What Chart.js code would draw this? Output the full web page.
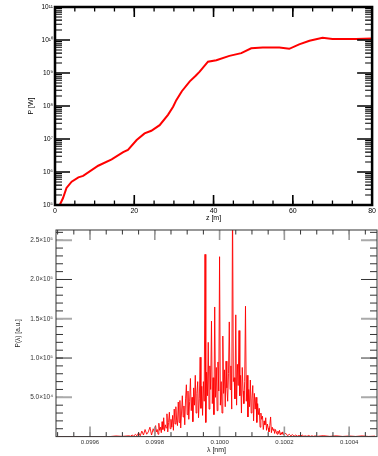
<!DOCTYPE html>
<html>
<head>
<meta charset="utf-8">
<script src="https://cdn.jsdelivr.net/npm/chart.js@4.4.1/dist/chart.umd.min.js"></script>
<style>
  html, body { margin: 0; padding: 0; background: #fff; }
  #wrap { position: relative; width: 378px; height: 456px; overflow: hidden; }
  #powerChart { position: absolute; left: 0; top: 0; }
  #specChart { position: absolute; left: 0; top: 222px; }
</style>
</head>
<body>
<div id="wrap">
  <canvas id="powerChart" width="378" height="222"></canvas>
  <canvas id="specChart" width="378" height="234"></canvas>
</div>
<script>
// Gain curve: power along the undulator
const zPos = [1.2, 2.0, 2.9, 4.2, 5.9, 7.1, 10.9, 14.3, 17.2, 18.4, 20.6, 22.6, 24.3, 26.4,
  28.5, 29.8, 30.6, 32.0, 34.0, 35.5, 36.5, 38.6, 40.7, 44.0, 47.0, 49.5, 52.4, 56.6,
  59.1, 61.6, 64.2, 67.5, 70.0, 75.9, 80.0];
const powerW = [1.0e5, 1.6e5, 3.3e5, 5.1e5, 6.9e5, 7.6e5, 1.55e6, 2.4e6, 4.0e6, 4.7e6, 9.3e6,
  1.48e7, 1.78e7, 2.63e7, 5.4e7, 9.5e7, 1.5e8, 2.8e8, 5.6e8, 8.3e8, 1.1e9, 2.2e9, 2.45e9,
  3.3e9, 4.0e9, 5.6e9, 5.9e9, 5.9e9, 5.4e9, 7.4e9, 9.5e9, 1.17e10, 1.07e10, 1.07e10, 1.12e10];

const topXTicks = [0, 20, 40, 60, 80];
const topYTicks = [1e5, 1e6, 1e7, 1e8, 1e9, 1e10, 1e11];
const topYLabels = ['10⁵', '10⁶', '10⁷', '10⁸', '10⁹', '10¹⁰', '10¹¹'];

// Spectrum at the undulator exit
const specLambda = [
  // left wing
  0.09950, 0.09960, 0.09966, 0.09968, 0.09970,
  0.099720, 0.099725, 0.099730, 0.099735, 0.099740, 0.099745, 0.099750, 0.099755,
  0.099760, 0.099765, 0.099770, 0.099775, 0.099780, 0.099785, 0.099790, 0.099795,
  // core
  0.0998000, 0.0998025, 0.0998050, 0.0998075, 0.0998100, 0.0998125, 0.0998150, 0.0998175, 0.0998200, 0.0998225,
  0.0998250, 0.0998275, 0.0998300, 0.0998325, 0.0998350, 0.0998375, 0.0998400, 0.0998425, 0.0998450, 0.0998475,
  0.0998500, 0.0998525, 0.0998550, 0.0998575, 0.0998600, 0.0998625, 0.0998650, 0.0998675, 0.0998700, 0.0998725,
  0.0998750, 0.0998775, 0.0998800, 0.0998825, 0.0998850, 0.0998875, 0.0998900, 0.0998925, 0.0998950, 0.0998975,
  0.0999000, 0.0999025, 0.0999050, 0.0999075, 0.0999100, 0.0999125, 0.0999150, 0.0999175, 0.0999200, 0.0999225,
  0.0999250, 0.0999275, 0.0999300, 0.0999325, 0.0999350, 0.0999375, 0.0999400, 0.0999425, 0.0999450, 0.0999475,
  0.0999500, 0.0999525, 0.0999550, 0.0999575, 0.0999600, 0.0999625, 0.0999650, 0.0999675, 0.0999700, 0.0999725,
  0.0999750, 0.0999775, 0.0999800, 0.0999825, 0.0999850, 0.0999875, 0.0999900, 0.0999925, 0.0999950, 0.0999975,
  0.1000000, 0.1000025, 0.1000050, 0.1000075, 0.1000100, 0.1000125, 0.1000150, 0.1000175, 0.1000200, 0.1000225,
  0.1000250, 0.1000275, 0.1000300, 0.1000325, 0.1000350, 0.1000375, 0.1000400, 0.1000425, 0.1000450, 0.1000475,
  0.1000500, 0.1000525, 0.1000550, 0.1000575, 0.1000600, 0.1000625, 0.1000650, 0.1000675, 0.1000700, 0.1000725,
  0.1000750, 0.1000775, 0.1000800, 0.1000825, 0.1000850, 0.1000875, 0.1000900, 0.1000925, 0.1000950, 0.1000975,
  0.1001000, 0.1001025, 0.1001050, 0.1001075, 0.1001100, 0.1001125, 0.1001150, 0.1001175, 0.1001200, 0.1001225,
  0.1001250, 0.1001275, 0.1001300, 0.1001325, 0.1001350, 0.1001375, 0.1001400, 0.1001425, 0.1001450, 0.1001475,
  0.1001500, 0.1001525, 0.1001550, 0.1001575, 0.1001600, 0.1001625, 0.1001650, 0.1001675, 0.1001700, 0.1001725,
  0.1001750, 0.1001775, 0.1001800, 0.1001825, 0.1001850, 0.1001875, 0.1001900, 0.1001925, 0.1001950, 0.1001975,
  0.1002000,
  // right wing
  0.100205, 0.100210, 0.100215, 0.100220, 0.100225, 0.100230, 0.100235, 0.100240, 0.100245, 0.100250,
  0.100255, 0.100260, 0.100265, 0.100270, 0.100275, 0.100280, 0.100285, 0.100290, 0.100295, 0.100300,
  0.10032, 0.10034, 0.10036, 0.10038, 0.10040, 0.10042, 0.10044, 0.10046, 0.10048
];
const specPower = [
  // left wing
  0, 0, 0, 800, 300,
  1e3, 0.5e3, 2e3, 0.5e3, 3e3, 1e3, 5e3, 1e3,
  7e3, 2e3, 9e3, 3e3, 6e3, 12e3, 2e3, 10e3,
  // core
  4e3, 14e3, 6e3, 9e3, 3e3, 17e3, 8e3, 12e3, 5e3, 19e3,
  9e3, 24e3, 7e3, 15e3, 11e3, 29e3, 6e3, 18e3, 31e3, 10e3,
  22e3, 12e3, 27e3, 8e3, 35e3, 16e3, 38e3, 20e3, 14e3, 44e3,
  18e3, 46e3, 11e3, 30e3, 52e3, 25e3, 39e3, 15e3, 48e3, 66e3,
  28e3, 58e3, 22e3, 45e3, 74e3, 33e3, 50e3, 19e3, 62e3, 40e3,
  78e3, 30e3, 55e3, 70e3, 24e3, 48e3, 101e3, 36e3, 64e3, 27e3,
  70e3, 45e3, 232e3, 18e3, 82e3, 52e3, 120e3, 35e3, 90e3, 60e3,
  147e3, 42e3, 75e3, 28e3, 165e3, 50e3, 88e3, 33e3, 95e3, 58e3,
  229e3, 40e3, 70e3, 30e3, 128e3, 55e3, 85e3, 38e3, 96e3, 62e3,
  45e3, 80e3, 146e3, 60e3, 90e3, 35e3, 300e3, 70e3, 75e3, 48e3,
  155e3, 40e3, 92e3, 65e3, 135e3, 52e3, 78e3, 30e3, 88e3, 58e3,
  42e3, 70e3, 166e3, 45e3, 78e3, 25e3, 60e3, 38e3, 72e3, 30e3,
  48e3, 65e3, 20e3, 55e3, 35e3, 50e3, 18e3, 42e3, 28e3, 36e3,
  12e3, 30e3, 22e3, 26e3, 9e3, 20e3, 15e3, 24e3, 8e3, 16e3,
  11e3, 6e3, 14e3, 25e3, 5e3, 12e3, 8e3, 10e3, 4e3, 9e3,
  6e3, 3e3, 7e3, 4e3, 8e3, 2e3, 5e3, 3e3, 6e3, 2e3,
  4e3,
  // right wing
  4e3, 1e3, 3e3, 1e3, 2.5e3, 0.5e3, 2e3, 0.5e3, 1.5e3, 0.5e3,
  2e3, 0.5e3, 1e3, 0.3e3, 1.5e3, 0.3e3, 1e3, 0.3e3, 1e3, 0.3e3,
  1.2e3, 0.3e3, 1e3, 0.2e3, 0.8e3, 0.2e3, 0.9e3, 0.2e3, 0.6e3
];

const specXTicks = [0.0996, 0.0998, 0.1000, 0.1002, 0.1004];
const specYTicks = [5e4, 1e5, 1.5e5, 2e5, 2.5e5];
const specYLabels = ['5.0×10⁴', '1.0×10⁵', '1.5×10⁵', '2.0×10⁵', '2.5×10⁵'];

const FONT = 'Liberation Sans, Arial, sans-serif';

function steps(from, to, step) {
    const out = [];
    const n = Math.round((to - from) / step);
    for (let i = 0; i <= n; i++) out.push(from + i * step);
    return out;
}

// Inward tick marks on all four sides plus the frame
const frameTicks = {
    id: 'frameTicks',
    afterDraw(chart, args, opts) {
        const { ctx, chartArea: a, scales } = chart;
        ctx.save();
        ctx.beginPath();
        ctx.rect(a.left, a.top, a.right - a.left, a.bottom - a.top);
        ctx.clip();
        (opts.x || []).forEach(t => {
            ctx.strokeStyle = t.color;
            ctx.lineWidth = t.width;
            t.values.forEach(v => {
                const px = scales.x.getPixelForValue(v);
                if (px < a.left - 0.5 || px > a.right + 0.5) return;
                ctx.beginPath();
                ctx.moveTo(px, a.bottom);
                ctx.lineTo(px, a.bottom - t.len);
                ctx.moveTo(px, a.top);
                ctx.lineTo(px, a.top + t.len);
                ctx.stroke();
            });
        });
        (opts.y || []).forEach(t => {
            ctx.strokeStyle = t.color;
            ctx.lineWidth = t.width;
            t.values.forEach(v => {
                const py = scales.y.getPixelForValue(v);
                if (py < a.top - 0.5 || py > a.bottom + 0.5) return;
                ctx.beginPath();
                ctx.moveTo(a.left, py);
                ctx.lineTo(a.left + t.len, py);
                ctx.moveTo(a.right, py);
                ctx.lineTo(a.right - t.len, py);
                ctx.stroke();
            });
        });
        ctx.restore();
        ctx.save();
        ctx.strokeStyle = opts.frameColor;
        ctx.lineWidth = opts.frameWidth;
        ctx.strokeRect(a.left, a.top, a.right - a.left, a.bottom - a.top);
        ctx.restore();
    }
};

// 1. Power vs z (log scale)
const topYMinor = topYTicks.slice(0, -1).flatMap(d => [2, 3, 4, 5, 6, 7, 8, 9].map(m => m * d));

new Chart(document.getElementById('powerChart'), {
    type: 'line',
    data: {
        datasets: [{
            data: zPos.map((z, i) => ({ x: z, y: powerW[i] })),
            borderColor: '#ff0000',
            borderWidth: 2,
            pointRadius: 0,
            tension: 0
        }]
    },
    options: {
        responsive: false,
        animation: false,
        layout: { padding: { top: 7, right: 5, left: 0, bottom: 0 } },
        plugins: {
            legend: { display: false },
            tooltip: { enabled: false },
            frameTicks: {
                frameColor: '#000',
                frameWidth: 2.5,
                x: [
                    { values: steps(0, 80, 5), len: 4.5, color: '#000', width: 1.3 },
                    { values: topXTicks, len: 10, color: '#000', width: 1.6 }
                ],
                y: [
                    { values: topYMinor, len: 7, color: '#000', width: 1.1 },
                    { values: topYTicks, len: 15, color: '#000', width: 1.6 }
                ]
            }
        },
        scales: {
            x: {
                type: 'linear',
                min: 0,
                max: 80,
                grid: { display: false, drawTicks: false },
                border: { display: false },
                afterBuildTicks: s => { s.ticks = topXTicks.map(v => ({ value: v })); },
                afterFit: s => { s.height = 17; },
                ticks: { color: '#000', font: { family: FONT, size: 7 }, padding: 2, maxRotation: 0 },
                title: { display: true, text: 'z [m]', color: '#000', font: { family: FONT, size: 7 }, padding: { top: 0, bottom: 0 } }
            },
            y: {
                type: 'logarithmic',
                min: 1e5,
                max: 1e11,
                grid: { display: false, drawTicks: false },
                border: { display: false },
                afterBuildTicks: s => { s.ticks = topYTicks.map(v => ({ value: v })); },
                afterFit: s => { s.width = 55; },
                ticks: {
                    color: '#000',
                    font: { family: FONT, size: 6.5 },
                    padding: 2,
                    callback: (v, i) => topYLabels[i]
                },
                title: { display: true, text: 'P [W]', color: '#000', font: { family: FONT, size: 7 }, padding: { top: 27, bottom: 0 } }
            }
        }
    },
    plugins: [frameTicks]
});

// 2. Spectrum
const specYOdd = specYTicks.filter((v, i) => i % 2 === 0);
const specYEven = specYTicks.filter((v, i) => i % 2 === 1);

new Chart(document.getElementById('specChart'), {
    type: 'line',
    data: {
        datasets: [{
            data: specLambda.map((l, i) => ({ x: l, y: specPower[i] })),
            borderColor: '#ff0000',
            borderWidth: 0.9,
            borderJoinStyle: 'round',
            pointRadius: 0,
            tension: 0
        }]
    },
    options: {
        responsive: false,
        animation: false,
        layout: { padding: { top: 8, right: 1, left: 0, bottom: 0 } },
        plugins: {
            legend: { display: false },
            tooltip: { enabled: false },
            frameTicks: {
                frameColor: '#333',
                frameWidth: 1,
                x: [
                    { values: steps(0.09950, 0.10050, 0.00005), len: 4.5, color: '#333', width: 1 },
                    { values: specXTicks, len: 10, color: '#999', width: 1.6 }
                ],
                y: [
                    { values: steps(1e4, 2.6e5, 1e4), len: 7, color: '#333', width: 1 },
                    { values: specYOdd, len: 16, color: '#aaa', width: 2 },
                    { values: specYEven, len: 16, color: '#333', width: 1 }
                ]
            }
        },
        scales: {
            x: {
                type: 'linear',
                min: 0.099495,
                max: 0.100486,
                grid: { display: false, drawTicks: false },
                border: { display: false },
                afterBuildTicks: s => { s.ticks = specXTicks.map(v => ({ value: v })); },
                afterFit: s => { s.height = 19.4; },
                ticks: {
                    color: '#333',
                    font: { family: FONT, size: 6 },
                    padding: 2,
                    maxRotation: 0,
                    callback: v => v.toFixed(4)
                },
                title: { display: true, text: 'λ [nm]', color: '#222', font: { family: FONT, size: 7 }, padding: { top: 0, bottom: 2 } }
            },
            y: {
                type: 'linear',
                min: 0,
                max: 263000,
                grid: { display: false, drawTicks: false },
                border: { display: false },
                afterBuildTicks: s => { s.ticks = specYTicks.map(v => ({ value: v })); },
                afterFit: s => { s.width = 56; },
                ticks: {
                    color: '#333',
                    font: { family: FONT, size: 6.5 },
                    padding: 3,
                    callback: (v, i) => specYLabels[i]
                },
                title: { display: true, text: 'P(λ) [a.u.]', color: '#222', font: { family: FONT, size: 6.5 }, padding: { top: 14, bottom: 0 } }
            }
        }
    },
    plugins: [frameTicks]
});
</script>
</body>
</html>
